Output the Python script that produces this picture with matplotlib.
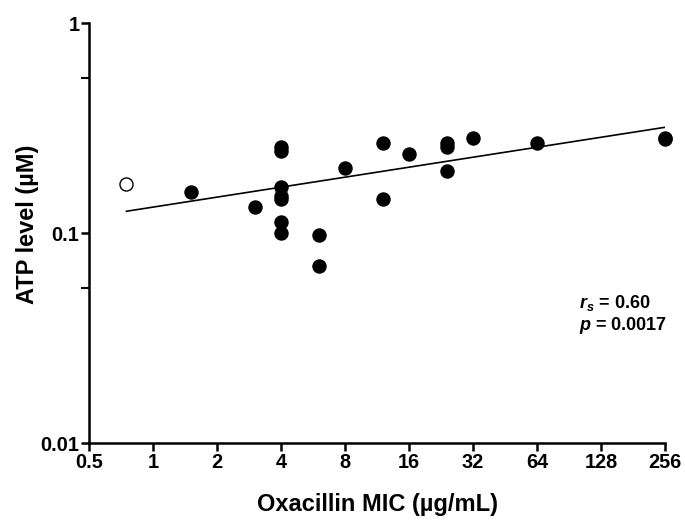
#!/usr/bin/env python3
"""ATP level vs oxacillin MIC, log-log scatter with Spearman fit line."""
import numpy as np
import matplotlib
matplotlib.use('Agg')
import matplotlib.pyplot as plt
from matplotlib.ticker import FixedLocator, FixedFormatter, NullFormatter

plt.rcParams['font.family'] = ['Liberation Sans', 'DejaVu Sans']
plt.rcParams['mathtext.fontset'] = 'custom'
plt.rcParams['mathtext.rm'] = 'Liberation Sans:bold'
plt.rcParams['mathtext.it'] = 'Liberation Sans:italic:bold'
plt.rcParams['mathtext.bf'] = 'Liberation Sans:bold'

# isolates (filled circles)
mic = [1.5, 3, 4, 4, 4, 4, 4, 4, 4, 6, 6, 8, 12, 12, 16, 24, 24, 24, 32, 64, 256, 256]
atp = [0.156, 0.133, 0.258, 0.246, 0.166, 0.150, 0.145, 0.113, 0.100, 0.098, 0.0697,
       0.203, 0.267, 0.146, 0.237, 0.267, 0.256, 0.198, 0.284, 0.267, 0.280, 0.285]

# reference strain (open circle)
ref_mic = [0.75]
ref_atp = [0.171]

# regression line end points
fit_x = [0.75, 256]
fit_y = [0.127, 0.319]

x_ticks = [0.5, 1, 2, 4, 8, 16, 32, 64, 128, 256]
x_labels = ['0.5', '1', '2', '4', '8', '16', '32', '64', '128', '256']
y_ticks = [0.01, 0.1, 1]
y_labels = ['0.01', '0.1', '1']
y_minor = [0.055, 0.55]

fig = plt.figure(figsize=(6.85, 5.21), dpi=100)
ax = fig.add_axes([0.130, 0.1497, 0.841, 0.806])

ax.plot(fit_x, fit_y, color='black', linewidth=1.2, zorder=2)
ax.plot(mic, atp, 'o', color='black', markersize=9.4, zorder=3, clip_on=False)
ax.plot(ref_mic, ref_atp, 'o', markerfacecolor='white', markeredgecolor='black',
        markersize=9.4, markeredgewidth=1.0, zorder=3)

ax.set_xscale('log', base=2)
ax.set_yscale('log')
ax.set_xlim(0.5, 256)
ax.set_ylim(0.01, 1)

ax.xaxis.set_major_locator(FixedLocator(x_ticks))
ax.xaxis.set_major_formatter(FixedFormatter(x_labels))
ax.xaxis.set_minor_locator(FixedLocator([]))
ax.yaxis.set_major_locator(FixedLocator(y_ticks))
ax.yaxis.set_major_formatter(FixedFormatter(y_labels))
ax.yaxis.set_minor_locator(FixedLocator(y_minor))
ax.yaxis.set_minor_formatter(NullFormatter())

for side in ['top', 'right']:
    ax.spines[side].set_visible(False)
for side in ['left', 'bottom']:
    ax.spines[side].set_linewidth(1.8)

ax.tick_params(axis='both', which='major', direction='out', length=6, width=1.8,
               labelsize=14.3, pad=1)
ax.tick_params(axis='y', which='minor', direction='out', length=6, width=1.5)
for lab in ax.get_xticklabels() + ax.get_yticklabels():
    lab.set_fontweight('bold')

ax.set_xlabel('Oxacillin MIC (µg/mL)', fontsize=17, fontweight='bold')
ax.set_ylabel('ATP level (µM)', fontsize=17, fontweight='bold')
ax.xaxis.set_label_coords(0.5, -0.118)
ax.yaxis.set_label_coords(-0.087, 0.52)

ax.text(0.85, 0.333, r'$r_s$ = 0.60', transform=ax.transAxes, fontsize=13,
        fontweight='bold', ha='left', va='center')
ax.text(0.85, 0.281, r'$p$ = 0.0017', transform=ax.transAxes, fontsize=13,
        fontweight='bold', ha='left', va='center')

fig.savefig('out.png', dpi=100)
